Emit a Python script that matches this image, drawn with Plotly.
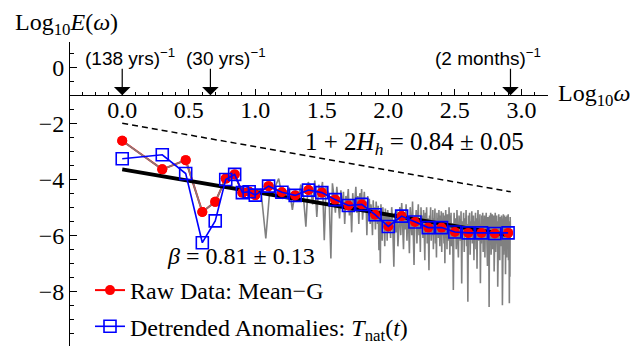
import numpy as np
import plotly.graph_objects as go

# ---------------- data ----------------
# log10 frequency of the binned spectra (first ten are single harmonics n=1..10)
logw_bins = [0.0, 0.301, 0.477, 0.602, 0.699, 0.778, 0.845, 0.903, 0.954, 1.0,
             1.1, 1.2, 1.3, 1.4, 1.5, 1.6, 1.7, 1.8, 1.9, 2.0,
             2.1, 2.2, 2.3, 2.4, 2.5, 2.6, 2.7, 2.8, 2.9]
raw_meanG = [-2.63, -3.65, -3.32, -5.17, -4.81, -3.98, -3.83, -4.48, -4.45, -4.57,
             -4.25, -4.47, -4.58, -4.39, -4.48, -4.73, -4.94, -4.90, -5.27, -5.69,
             -5.32, -5.53, -5.73, -5.73, -5.89, -5.92, -5.92, -5.94, -5.92]
detrended = [-3.27, -3.13, -3.80, -6.27, -5.49, -4.01, -3.83, -4.48, -4.45, -4.57,
             -4.25, -4.47, -4.58, -4.39, -4.48, -4.73, -4.94, -4.90, -5.27, -5.69,
             -5.32, -5.53, -5.73, -5.73, -5.89, -5.92, -5.92, -5.94, -5.92]

# raw periodogram: harmonic index n (in units of (138 yrs)^-1) and log10 power
n_gray = list(range(1, 101)) + list(range(102, 301, 2)) + list(range(304, 829, 4))
gray_1_10 = [-2.63, -3.65, -3.32, -5.17, -4.81, -3.98, -3.83, -4.48, -4.45, -4.57]
gray_11_100 = [
    -4.35, -6.12, -4.10, -4.30, -3.98, -4.70, -4.55, -4.30, -5.10, -4.40,
    -4.75, -4.20, -4.60, -5.70, -4.10, -4.30, -4.90, -4.05, -5.35, -4.20,
    -4.55, -4.10, -6.18, -4.30, -4.45, -4.90, -6.83, -4.15, -4.60, -5.20,
    -4.27, -4.80, -5.40, -4.40, -5.00, -4.45, -5.60, -4.60, -4.90, -4.35,
    -5.30, -4.70, -5.90, -4.50, -5.10, -4.80, -4.27, -5.20, -4.60, -5.60,
    -4.50, -5.00, -4.35, -5.45, -4.70, -4.45, -5.10, -4.80, -6.00, -4.60,
    -5.30, -4.70, -5.60, -4.90, -5.20, -6.00, -4.75, -5.50, -5.00, -5.80,
    -4.80, -5.30, -5.60, -4.95, -6.54, -5.10, -7.00, -4.90, -5.50, -6.20,
    -5.00, -5.70, -5.30, -6.40, -5.05, -5.80, -5.20, -6.20, -5.10, -5.90]
gray_102_300 = [
    -5.30, -6.10, -5.00, -5.70, -7.13, -5.20, -5.90, -5.10, -6.40, -5.40,
    -5.00, -6.00, -4.85, -5.60, -6.50, -5.20, -5.80, -4.90, -6.20, -5.30,
    -5.60, -6.65, -5.00, -5.50, -6.00, -4.80, -5.90, -7.07, -5.30, -5.60,
    -5.10, -6.30, -5.40, -4.90, -6.00, -5.50, -6.60, -5.00, -5.70, -5.30,
    -6.10, -5.10, -5.80, -6.90, -5.20, -5.60, -5.00, -6.30, -5.40, -5.90,
    -7.25, -5.30, -5.70, -5.00, -6.20, -5.50, -6.00, -5.10, -6.50, -5.40,
    -5.80, -5.05, -6.30, -5.60, -6.80, -5.20, -5.90, -5.40, -6.10, -5.10,
    -5.70, -6.40, -5.30, -5.90, -5.15, -6.60, -5.50, -6.00, -5.20, -5.80,
    -6.30, -5.30, -7.00, -5.60, -5.10, -6.10, -5.50, -6.50, -5.25, -5.90,
    -5.40, -6.20, -5.00, -5.80, -6.70, -5.30, -6.00, -5.20, -6.40, -5.60]
gray_304_828 = [
    -5.60, -7.96, -5.20, -6.10, -5.40, -6.50, -5.10, -5.90, -6.80, -5.30, -5.70,
    -6.20, -5.15, -7.73, -5.50, -6.00, -5.20, -6.60, -5.40, -5.90, -5.10, -6.40,
    -5.60, -8.38, -5.30, -6.10, -5.20, -6.70, -5.50, -5.90, -5.15, -6.30, -5.70,
    -5.30, -6.90, -5.50, -6.00, -5.20, -6.50, -5.40, -7.20, -5.60, -5.10, -6.20,
    -5.50, -6.00, -5.25, -7.72, -5.60, -6.30, -5.30, -5.90, -5.20, -6.60, -5.50,
    -6.10, -5.30, -6.80, -5.45, -5.90, -5.20, -6.40, -5.60, -7.10, -5.35, -6.00,
    -5.50, -8.57, -5.30, -6.20, -5.60, -5.20, -6.70, -5.40, -6.00, -5.25, -6.50,
    -5.50, -6.10, -5.30, -7.30, -5.60, -6.00, -5.20, -6.60, -5.45, -5.90, -5.30,
    -6.30, -5.50, -7.84, -5.40, -6.10, -5.25, -6.50, -5.60, -6.90, -5.35, -6.00,
    -5.50, -6.40, -5.30, -6.00, -5.60, -8.50, -5.40, -6.20, -5.25, -6.70, -5.50,
    -6.00, -5.30, -6.50, -5.60, -7.40, -5.35, -6.10, -5.50, -6.80, -5.30, -5.90,
    -5.40, -6.30, -5.25, -6.90, -5.60, -6.10, -8.43, -5.50, -7.49, -5.35, -5.90]
gray_vals = gray_1_10 + gray_11_100 + gray_102_300 + gray_304_828
assert len(gray_vals) == len(n_gray)

# fits
beta, beta_intercept = 0.81, -3.65          # solid black fit
hurst_slope, hurst_intercept = 0.84, -2.00  # dashed reference line
fit_span = [0.0, 2.92]

# marked periods
arrow_labels = ["(138 yrs)<sup>−1</sup>", "(30 yrs)<sup>−1</sup>", "(2 months)<sup>−1</sup>"]
arrow_freq_per_138yr = [1.0, 138.0 / 30.0, 828.0]
label_shift_px = [8, 16, -22]   # horizontal offset of each label from its arrow

x_ticks = [0.0, 0.5, 1.0, 1.5, 2.0, 2.5, 3.0]
y_ticks = [-8, -6, -4, -2, 0]

# ---------------- figure ----------------
SERIF = "Liberation Serif"
SANS = "Liberation Sans"
XR = [-0.4, 3.2]
YR = [-9.96, 0.9]
AXIS_Y = -1.0

gray_x = np.log10(np.array(n_gray, dtype=float))
fx = np.array(fit_span)

fig = go.Figure()

# dashed reference line
fig.add_trace(go.Scatter(x=fx, y=hurst_intercept - hurst_slope * fx, mode="lines",
                         line=dict(color="black", width=1.5, dash="6px,4px"),
                         showlegend=False, hoverinfo="skip"))
# red raw data (line + markers, legend entry)
fig.add_trace(go.Scatter(x=logw_bins, y=raw_meanG, mode="lines+markers",
                         name="Raw Data: Mean−G", legendgroup="a",
                         line=dict(color="#ff0000", width=2),
                         marker=dict(symbol="circle", size=10, color="#ff0000")))
# raw periodogram
fig.add_trace(go.Scatter(x=gray_x, y=gray_vals, mode="lines",
                         line=dict(color="#808080", width=1.6),
                         showlegend=False, hoverinfo="skip"))
# fit line
fig.add_trace(go.Scatter(x=fx, y=beta_intercept - beta * fx, mode="lines",
                         line=dict(color="black", width=4),
                         showlegend=False, hoverinfo="skip"))
# red markers on top
fig.add_trace(go.Scatter(x=logw_bins, y=raw_meanG, mode="markers",
                         marker=dict(symbol="circle", size=10, color="#ff0000"),
                         showlegend=False, hoverinfo="skip"))
# blue detrended
fig.add_trace(go.Scatter(x=logw_bins, y=detrended, mode="lines+markers",
                         name="Detrended Anomalies: <i>T</i><sub>nat</sub>(<i>t</i>)",
                         legendgroup="b",
                         line=dict(color="#0000ff", width=1.6),
                         marker=dict(symbol="square-open", size=12,
                                     color="#0000ff", line=dict(width=1.6, color="#0000ff"))))

annotations = []
for lab, f, dx in zip(arrow_labels, arrow_freq_per_138yr, label_shift_px):
    xv = float(np.log10(f))
    annotations.append(dict(x=xv, y=AXIS_Y, xref="x", yref="y", text="",
                            showarrow=True, arrowhead=1, arrowsize=2.3,
                            arrowwidth=1.2, arrowcolor="black", ax=0, ay=-28,
                            standoff=0, startstandoff=0))
    annotations.append(dict(x=xv, y=AXIS_Y, xref="x", yref="y", text=lab,
                            showarrow=False, xshift=dx, yshift=38,
                            xanchor="center", yanchor="middle",
                            font=dict(family=SANS, size=19, color="black")))
annotations.append(dict(x=2.2, y=-2.72, xref="x", yref="y", showarrow=False,
                        text="1 + 2<i>H</i><sub><i>h</i></sub> = 0.84 ± 0.05",
                        font=dict(family=SERIF, size=25, color="black")))
annotations.append(dict(x=0.89, y=-6.75, xref="x", yref="y", showarrow=False,
                        text="<i>β</i> = 0.81 ± 0.13",
                        font=dict(family=SERIF, size=24, color="black")))
annotations.append(dict(x=13, y=24, xref="paper", yref="paper", showarrow=False,
                        text="Log<sub>10</sub><i>E</i>(<i>ω</i>)",
                        xanchor="left", yanchor="middle",
                        font=dict(family=SERIF, size=24, color="black")))
annotations.append(dict(x=556, y=95, xref="paper", yref="paper", showarrow=False,
                        text="Log<sub>10</sub><i>ω</i>",
                        xanchor="left", yanchor="middle",
                        font=dict(family=SERIF, size=24, color="black")))

W, H = 644, 346
ML, MR, MT, MB = 69, 96, 42, 0
pw, ph = W - ML - MR, H - MT - MB
# convert pixel-placed titles to paper coords
for a in annotations:
    if a.get("xref") == "paper":
        a["x"] = (a["x"] - ML) / pw
        a["y"] = 1 - (a["y"] - MT) / ph

fig.update_layout(
    width=W, height=H, margin=dict(l=ML, r=MR, t=MT, b=MB, autoexpand=False),
    paper_bgcolor="white", plot_bgcolor="white",
    font=dict(family=SERIF, size=24, color="black"),
    annotations=annotations,
    showlegend=True,
    legend=dict(x=(90 - ML) / pw, y=1 - (268 - MT) / ph, xanchor="left", yanchor="top",
                bgcolor="rgba(0,0,0,0)", tracegroupgap=2,
                font=dict(family=SERIF, size=24, color="black")),
    xaxis=dict(range=XR, showgrid=False, zeroline=False, showline=True,
               linecolor="black", linewidth=1, anchor="free", automargin=False,
               position=(AXIS_Y - YR[0]) / (YR[1] - YR[0]),
               tickmode="array", tickvals=x_ticks,
               ticktext=[f"{v:.1f}" for v in x_ticks],
               ticks="inside", ticklen=6, tickwidth=1, tickcolor="black",
               ticklabelstandoff=-7,
               minor=dict(ticks="inside", dtick=0.1, ticklen=3, tickwidth=1,
                          tickcolor="black", showgrid=False),
               tickfont=dict(family=SERIF, size=24, color="black")),
    yaxis=dict(range=YR, showgrid=False, zeroline=False, showline=True,
               linecolor="black", linewidth=1, anchor="free", position=0,
               automargin=False,
               tickmode="array", tickvals=y_ticks,
               ticktext=[("−" + str(abs(v))) if v < 0 else str(v) for v in y_ticks],
               ticks="inside", ticklen=7, tickwidth=1, tickcolor="black",
               minor=dict(ticks="inside", dtick=0.5, ticklen=4, tickwidth=1,
                          tickcolor="black", showgrid=False),
               tickfont=dict(family=SERIF, size=24, color="black")),
)

fig.write_html("out.html")
